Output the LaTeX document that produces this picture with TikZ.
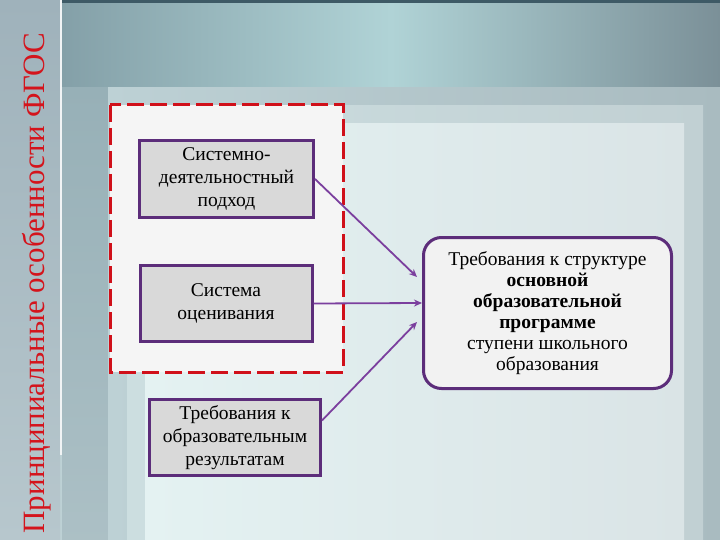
\documentclass[tikz,border=0pt]{standalone}
\usepackage{fontspec}
\setmainfont{Liberation Serif}
\usepackage{xcolor}
\usetikzlibrary{arrows.meta,positioning,calc}
\definecolor{titlered}{HTML}{D4141C}
\definecolor{dashred}{HTML}{D0101A}
\definecolor{boxpurple}{HTML}{5C2D7A}
\definecolor{arrowpurple}{HTML}{7B3F9E}
\definecolor{stripA}{HTML}{9FB2BB}
\definecolor{stripB}{HTML}{B7C7CD}
\definecolor{bandL}{HTML}{84A0A8}
\definecolor{bandM}{HTML}{B0D3D6}
\definecolor{bandR}{HTML}{7B9098}
\definecolor{bandTop}{HTML}{3E5A66}
\definecolor{gutter}{HTML}{97B0B7}
\definecolor{outerL}{HTML}{BDD1D5}
\definecolor{outerR}{HTML}{A9BBC0}
\definecolor{midL}{HTML}{CCDEE0}
\definecolor{midR}{HTML}{C1D0D3}
\definecolor{innerL}{HTML}{E4F2F2}
\definecolor{innerR}{HTML}{DAE4E6}
\tikzset{
  fbox/.style={draw=boxpurple, line width=3pt, fill=black!15, align=center,
               font=\fontsize{19.5}{23}\selectfont, inner sep=2pt},
  reqbox/.style={draw=boxpurple, line width=3pt, fill=black!5, align=center,
               rounded corners=18pt, font=\fontsize{19.5}{21}\selectfont,
               minimum width=248pt, minimum height=151pt},
  flow/.style={-{Stealth[length=8pt,width=7pt]}, line width=1.8pt, arrowpurple},
}
\begin{document}
\begin{tikzpicture}[x=1pt, y=-1pt]
  \useasboundingbox (0,0) rectangle (720,540);
  \fill[outerL] (0,0) rectangle (720,540);
  \fill[top color=stripA, bottom color=stripB] (0,0) rectangle (60,540);
  \fill[white!80!stripB] (60,0) rectangle (62,455);
  \fill[left color=bandL, right color=bandR, middle color=bandM] (62,0) rectangle (720,88);
  \fill[bandTop] (62,0) rectangle (720,3);
  \fill[top color=gutter, bottom color=gutter!80!white] (62,88) rectangle (108,540);
  \fill[left color=outerL, right color=outerR] (108,88) rectangle (720,540);
  \fill[left color=midL, right color=midR] (127,106) rectangle (703,540);
  \fill[left color=innerL, right color=innerR] (145,124) rectangle (684,540);
  \draw[dashred, line width=3pt, dash pattern=on 17pt off 6pt, fill=black!4]
    (110,105) rectangle (343,372);
  \node[rotate=90, text=titlered, font=\fontsize{31}{31}\selectfont] (title) at (37,283)
    {Принципиальные особенности ФГОС};
  \node[fbox, minimum width=174pt, minimum height=77pt] (approach) at (226.5,179)
    {Системно-\\деятельностный\\подход};
  \node[fbox, minimum width=172pt, minimum height=76pt] (assess) at (226,303.5)
    {Система\\оценивания};
  \node[fbox, minimum width=171pt, minimum height=76pt] (results) at (235,437.5)
    {Требования к\\образовательным\\результатам};
  \node[reqbox] (req) at (547.5,313)
    {Требования к структуре\\\textbf{основной}\\\textbf{образовательной}\\\textbf{программе}\\ступени школьного\\образования};
  \coordinate (inA) at ($(req.west)+(-5,-36)$);
  \coordinate (inB) at ($(req.west)+(0,-10)$);
  \coordinate (inC) at ($(req.west)+(-5,9)$);
  \draw[flow] (approach.east) -- (inA);
  \draw[flow] (assess.east) -- (inB);
  \draw[flow] ([yshift=17pt]results.east) -- (inC);
\end{tikzpicture}
\end{document}
